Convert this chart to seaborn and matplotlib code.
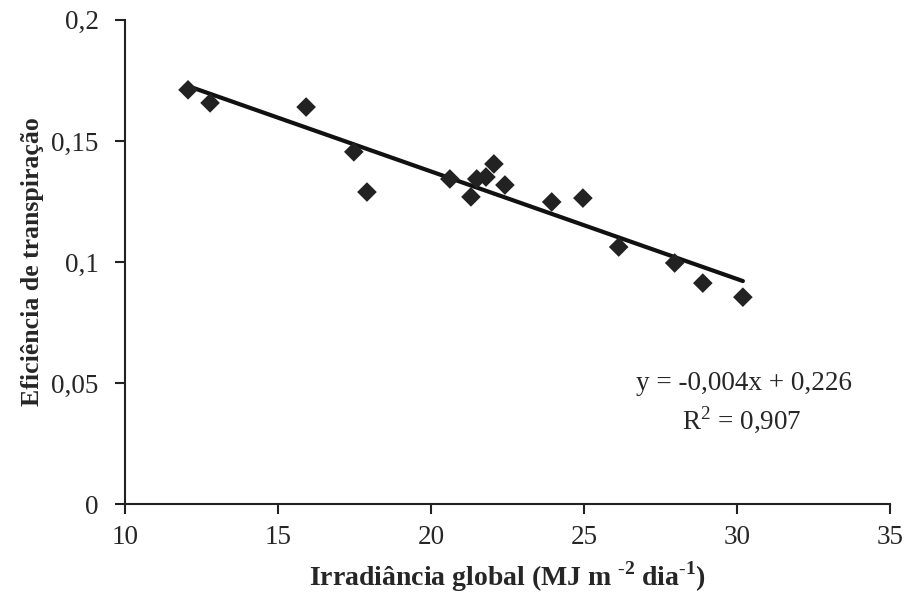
import numpy as np
import pandas as pd
import seaborn as sns
from matplotlib import pyplot as plt

# global irradiance (MJ m-2 dia-1) vs transpiration efficiency
irradiancia = [12.06, 12.78, 15.92, 17.48, 17.91, 20.62, 21.31, 21.50, 21.80,
               22.06, 22.42, 23.95, 24.97, 26.14, 27.97, 28.89, 30.20]
eficiencia = [0.1711, 0.1657, 0.1640, 0.1455, 0.1289, 0.1343, 0.1269, 0.1343, 0.1351,
              0.1405, 0.1318, 0.1248, 0.1264, 0.1062, 0.0996, 0.0913, 0.0855]
x_ticks = [10, 15, 20, 25, 30, 35]
y_ticks = [0, 0.05, 0.1, 0.15, 0.2]
y_ticklabels = ["0", "0,05", "0,1", "0,15", "0,2"]

df = pd.DataFrame({"x": irradiancia, "y": eficiencia})

sns.set_style("ticks")
plt.rcParams["font.family"] = ["Liberation Serif", "DejaVu Serif"]
plt.rcParams["mathtext.fontset"] = "custom"
plt.rcParams["mathtext.rm"] = "Liberation Serif"
plt.rcParams["mathtext.bf"] = "Liberation Serif:bold"

fig = plt.figure(figsize=(9.06, 6.01), dpi=100)
ax = fig.add_axes([0.138, 0.161, 0.844, 0.806])

sns.regplot(data=df, x="x", y="y", ax=ax, scatter=False, ci=None,
            line_kws={"color": "#111111", "lw": 3})
sns.scatterplot(data=df, x="x", y="y", ax=ax, marker="D", s=100,
                color="#222222", edgecolor="none", zorder=3)

ax.set_xlim(10, 35)
ax.set_ylim(0, 0.2)
ax.set_xticks(x_ticks)
ax.set_xticklabels([str(t) for t in x_ticks])
ax.set_yticks(y_ticks)
ax.set_yticklabels(y_ticklabels)
ax.tick_params(labelsize=19.5, length=7, width=1.5, color="#222222", direction="out")
ax.tick_params(axis="y", pad=12)
ax.tick_params(axis="x", pad=8)
for side in ["left", "bottom"]:
    ax.spines[side].set_linewidth(1.5)
    ax.spines[side].set_color("#222222")
sns.despine(ax=ax)

ax.set_xlabel(r"Irradiância global (MJ m $^{\mathbf{\text{-}2}}$ dia$^{\mathbf{\text{-}1}}$)",
              fontsize=20, fontweight="bold", labelpad=7)
ax.set_ylabel("Eficiência de transpiração", fontsize=18.5, fontweight="bold", labelpad=5)

ax.text(30.25, 0.0497, "y = -0,004x + 0,226", fontsize=19.5, ha="center", va="center")
ax.text(30.15, 0.0345, r"R$^{2}$ = 0,907", fontsize=19.5, ha="center", va="center")

fig.savefig("out.png", dpi=100)
